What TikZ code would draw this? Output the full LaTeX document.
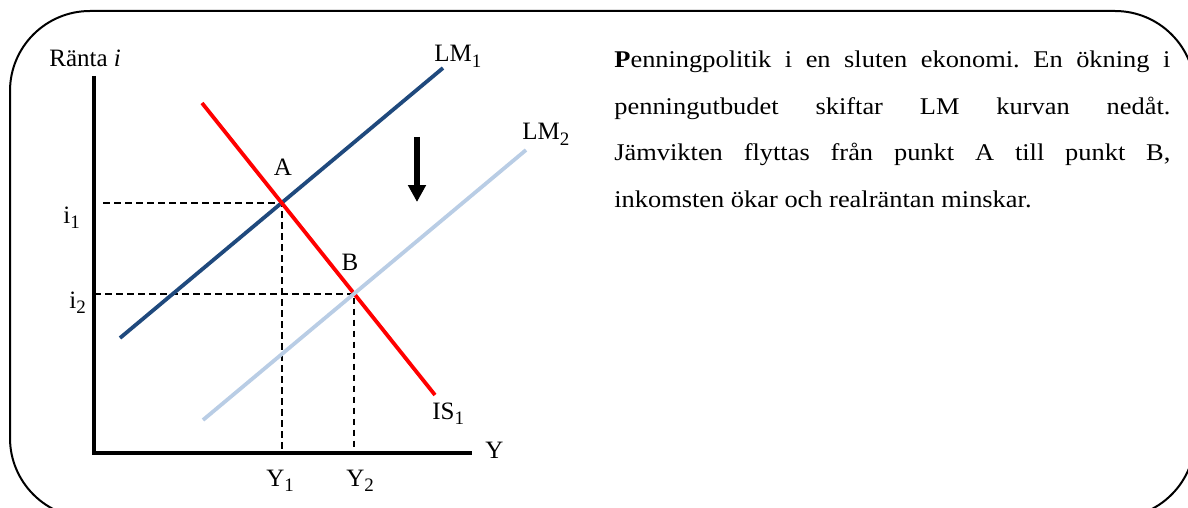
\documentclass[tikz,border=0pt]{standalone}
\usepackage{fontspec}
\setmainfont{Liberation Serif}
\newfontfamily\bodyfont{Liberation Serif}[FakeStretch=1.1]
\usetikzlibrary{intersections,arrows.meta}
\definecolor{lmdark}{RGB}{31,73,125}
\definecolor{lmlight}{RGB}{185,205,229}
\setlength\parindent{0pt}
\frenchspacing
\newcommand{\sbs}[1]{\raisebox{-2.6pt}{\fontsize{9.5}{10}\selectfont #1}}

\begin{document}
\begin{tikzpicture}[x=0.5pt,y=-0.5pt,
  axis/.style={line width=1.8pt},
  curve/.style={line width=1.9pt},
  guide/.style={line width=0.85pt,dash pattern=on 3.4pt off 2.1pt},
  lbl/.style={font=\fontsize{12.5}{14}\selectfont,inner sep=0pt,anchor=base west}]
%\draw[help lines] (0,0) grid[step=50] (1188,508);
\useasboundingbox (0,0) rectangle (1188,508);
\begin{scope}
\clip (0,0) rectangle (1188,508);
\draw[line width=1pt,rounded corners=40pt] (10,11) rectangle (1195,518);
\end{scope}
% axes
\coordinate (O) at (94,453);
\coordinate (ytop) at (94,76);
\coordinate (xend) at (472,453);
% curves
\coordinate (lm1s) at (120,338);
\coordinate (lm1e) at (443,68);
\coordinate (lm2s) at (203,420);
\coordinate (lm2e) at (526,150);
\coordinate (iss) at (202,103);
\coordinate (ise) at (435,395);
\path[name path=lm1] (lm1s) -- (lm1e);
\path[name path=lm2] (lm2s) -- (lm2e);
\path[name path=is1] (iss) -- (ise);
\path[name intersections={of=lm1 and is1,by=A}];
\path[name intersections={of=lm2 and is1,by=B}];
\draw[guide] ([xshift=4.5pt]A -| O) -- (A) -- (A |- O);
\draw[guide] (B -| O) -- (B) -- (B |- O);
\draw[curve,lmdark] (lm1s) -- (lm1e);
\draw[curve,red] (iss) -- (ise);
\draw[curve,lmlight] (lm2s) -- (lm2e);
\draw[axis] (ytop) -- (O) -- (xend);
% shift
\coordinate (sh1) at (417,137);
\coordinate (sh2) at (417,202);
\draw[line width=2.8pt,-{Triangle[length=8.5pt,width=8.6pt]}] (sh1) -- (sh2);
% labels
\node[lbl] (ranta) at (49,67) {Ränta \textit{i}};
\node[lbl] (lm1l) at (434,62) {LM\sbs{1}};
\node[lbl] (lm2l) at (522,140) {LM\sbs{2}};
\node[lbl] (isl) at (432,419) {IS\sbs{1}};
\node[lbl,anchor=base] (al) at (283,176) {A};
\node[lbl,anchor=base] (bl) at (350,270) {B};
\node[lbl] (i1l) at (63,223) {i\sbs{1}};
\node[lbl] (i2l) at (69,308) {i\sbs{2}};
\node[lbl] (yl) at (485,458) {Y};
\node[lbl] (y1l) at (266,486) {Y\sbs{1}};
\node[lbl] (y2l) at (346,486) {Y\sbs{2}};
% text
\node[anchor=base west,text width=278pt,align=justify,inner sep=0pt,
  font=\bodyfont\fontsize{12}{23.2}\selectfont] (txt) at (614,68)
  {\textbf{P}enningpolitik i en sluten ekonomi. En ökning i\linebreak
   penningutbudet skiftar LM kurvan nedåt.\linebreak
   Jämvikten flyttas från punkt A till punkt B,\linebreak
   inkomsten ökar och realräntan minskar.};
\end{tikzpicture}
\end{document}
